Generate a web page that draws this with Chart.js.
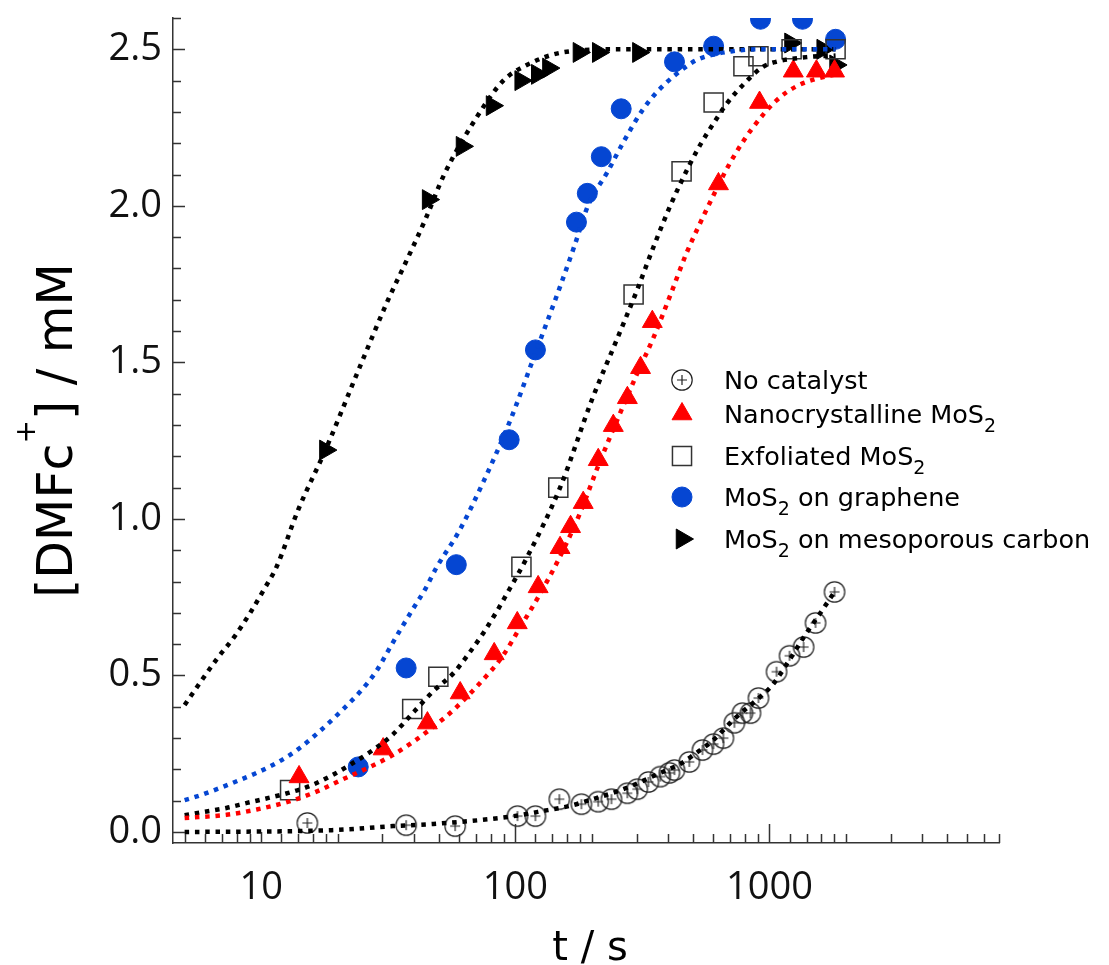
<!DOCTYPE html>
<html lang="en">
<head>
<meta charset="UTF-8">
<title>[DMFc+] vs t</title>
<script src="https://cdn.jsdelivr.net/npm/chart.js@4.4.1/dist/chart.umd.min.js"></script>
<style>
  html, body { margin: 0; padding: 0; background: #fff; }
  #chart { display: block; }
</style>
</head>
<body>
<canvas id="chart" width="1109" height="965"></canvas>
<script>
// measured points, [t (s), [DMFc+] (mM)]
var noCatalyst = [[15.2,0.029],[37.2,0.022],[58,0.019],[102,0.051],[120,0.051],[149,0.105],[182,0.089],[212,0.097],[239,0.105],[276,0.124],[302,0.137],[334,0.160],[372,0.177],[404,0.189],[423,0.198],[484,0.224],[545,0.262],[602,0.281],[659,0.300],[728,0.349],[783,0.380],[842,0.380],[905,0.428],[1066,0.512],[1199,0.563],[1362,0.591],[1518,0.668],[1803,0.767]];
var nanoMoS2 = [[14.1,0.176],[30.2,0.265],[45.1,0.348],[60.7,0.444],[82.6,0.569],[101.8,0.668],[123,0.783],[150,0.908],[165,0.975],[185,1.052],[212,1.189],[243,1.298],[276,1.387],[311,1.483],[346,1.63],[630,2.07],[914,2.33],[1241,2.43],[1530,2.43],[1803,2.43]];
var exfMoS2 = [[13.0,0.134],[39.3,0.393],[49.8,0.496],[105.7,0.847],[147.6,1.10],[292,1.717],[451,2.11],[603,2.33],[790,2.446],[905,2.478],[1222,2.50],[1820,2.50]];
var grapheneMoS2 = [[24.1,0.208],[37.2,0.524],[58.6,0.854],[94.6,1.253],[120,1.54],[174,1.948],[192,2.04],[218,2.157],[261,2.31],[423,2.46],[603,2.51],[922,2.596],[1349,2.596],[1820,2.532]];
var mesoMoS2 = [[17.9,1.22],[45.4,2.02],[61.7,2.19],[81,2.32],[105,2.40],[122,2.42],[135,2.44],[178,2.49],[212,2.49],[305,2.49],[1210,2.52],[1620,2.50],[1820,2.45]];

// fitted curves
var fitNoCatalyst = [[5,0.0],[19,0.006],[33,0.019],[47.6,0.026],[93,0.048],[134,0.07],[163,0.083],[196,0.102],[260,0.134],[311,0.16],[372,0.189],[452,0.22],[502,0.246],[602,0.294],[720,0.358],[938,0.438],[1028,0.47],[1177,0.54],[1410,0.64],[1596,0.703],[1803,0.767]];
var fitNano = [[5,0.045],[7.3,0.055],[9.6,0.072],[12.8,0.097],[16.6,0.13],[20.5,0.165],[26.8,0.208],[32.8,0.245],[39.6,0.288],[47.6,0.336],[58,0.395],[73.4,0.48],[88.8,0.56],[104.7,0.655],[123,0.75],[150,0.88],[180,1.02],[212,1.17],[250,1.31],[300,1.46],[350,1.58],[407,1.714],[471,1.848],[535,1.947],[586,2.014],[671,2.11],[748,2.177],[849,2.244],[1066,2.337],[1277,2.382],[1503,2.404],[1820,2.42]];
var fitExf = [[5,0.054],[6,0.065],[7.3,0.077],[8.8,0.093],[10.7,0.109],[12.8,0.125],[15.3,0.145],[18.5,0.176],[22.4,0.215],[27.1,0.258],[32.8,0.31],[40,0.385],[47.6,0.45],[57.5,0.51],[65.9,0.572],[74.9,0.636],[84.3,0.703],[94,0.770],[110,0.87],[150,1.10],[200,1.38],[250,1.57],[302,1.733],[349,1.867],[407,2.0],[484,2.13],[535,2.196],[602,2.263],[684,2.33],[790,2.388],[938,2.443],[1037,2.458],[1400,2.475],[1820,2.48]];
var fitGraphene = [[5,0.102],[5.5,0.112],[6.7,0.137],[8.05,0.163],[9.6,0.189],[11.7,0.224],[14,0.265],[16.9,0.32],[20.5,0.384],[24.5,0.448],[28.3,0.512],[31.6,0.579],[35.3,0.646],[39.6,0.713],[44.3,0.777],[48.9,0.844],[60,0.96],[75,1.12],[95,1.31],[120,1.53],[150,1.742],[171,1.873],[194,2.004],[230,2.107],[266,2.203],[316,2.305],[366,2.369],[484,2.452],[535,2.471],[715,2.494],[922,2.50],[1820,2.50]];
var fitMeso = [[5,0.406],[6.7,0.553],[7.9,0.627],[9.1,0.703],[10.3,0.777],[11.5,0.847],[14,1.03],[17.9,1.22],[24,1.47],[31.6,1.70],[36.6,1.81],[44.3,1.957],[52.5,2.10],[71.4,2.29],[89.7,2.40],[111,2.45],[153,2.49],[250,2.50],[1820,2.50]];

var seriesLabels = ['No catalyst', 'Nanocrystalline MoS_2', 'Exfoliated MoS_2', 'MoS_2 on graphene', 'MoS_2 on mesoporous carbon'];
var xTickValues = [5,6,7,8,9,10,12,14,16,18,20,30,40,50,60,70,80,90,100,120,140,160,180,200,300,400,500,600,700,800,900,1000,1200,1400,1600,1800,2000,3000,4000,5000,6000,7000,8000];
var xLabelValues = [10, 100, 1000];
var yLabelValues = [0, 0.5, 1.0, 1.5, 2.0, 2.5];

var RED = '#ff0000', BLUE = '#0546d2', BLACK = '#000000';

function pts(arr) {
    return arr.map(function (p) { return { x: p[0], y: p[1] }; });
}

// open circle with a plus inside
var circlePlus = (function () {
    var c = document.createElement('canvas');
    c.width = 26; c.height = 26;
    var g = c.getContext('2d');
    g.strokeStyle = '#222';
    g.lineWidth = 1.2;
    g.beginPath(); g.arc(13, 13, 10.2, 0, Math.PI * 2); g.stroke();
    g.beginPath(); g.moveTo(8, 13); g.lineTo(18, 13); g.moveTo(13, 8); g.lineTo(13, 18); g.stroke();
    return c;
})();

function markerSet(label, data, style) {
    return Object.assign({
        label: label,
        data: pts(data),
        showLine: false,
        order: 1,
        borderWidth: 1
    }, style);
}

function fitSet(data, color) {
    return {
        data: pts(data),
        showLine: true,
        pointRadius: 0,
        borderColor: color,
        borderWidth: 4.5,
        borderDash: [4.5, 5.8],
        cubicInterpolationMode: 'monotone',
        fill: false,
        order: 0
    };
}

var markerSets = [
    markerSet(seriesLabels[0], noCatalyst, { pointStyle: circlePlus, pointRadius: 10, backgroundColor: 'rgba(0,0,0,0)', borderColor: '#222' }),
    markerSet(seriesLabels[1], nanoMoS2, { pointStyle: 'triangle', pointRadius: 11.5, backgroundColor: RED, borderColor: RED }),
    markerSet(seriesLabels[2], exfMoS2, { pointStyle: 'rect', pointRadius: 13.5, backgroundColor: 'rgba(0,0,0,0)', borderColor: '#333', borderWidth: 1.5 }),
    markerSet(seriesLabels[3], grapheneMoS2, { pointStyle: 'circle', pointRadius: 10, backgroundColor: BLUE, borderColor: BLUE }),
    markerSet(seriesLabels[4], mesoMoS2, { pointStyle: 'triangle', pointRotation: 90, pointRadius: 11.5, backgroundColor: BLACK, borderColor: BLACK })
];

// tick marks inside the frame, axis titles and the legend
var decorPlugin = {
    id: 'decor',
    afterDraw: function (chart) {
        var ctx = chart.ctx, xs = chart.scales.x, ys = chart.scales.y, a = chart.chartArea;
        ctx.save();
        ctx.strokeStyle = '#333';
        ctx.lineWidth = 1.5;
        ctx.beginPath();
        xTickValues.forEach(function (v) {
            var px = Math.round(xs.getPixelForValue(v)) + 0.5;
            var len = v === 10 ? 11 : (xLabelValues.indexOf(v) >= 0 ? 19 : 9);
            ctx.moveTo(px, a.bottom);
            ctx.lineTo(px, a.bottom - len);
        });
        for (var i = 0; i <= 26; i++) {
            var py = Math.round(ys.getPixelForValue(i / 10)) + 0.5;
            ctx.moveTo(a.left, py);
            ctx.lineTo(a.left + (i % 5 === 0 ? 12 : 8), py);
        }
        ctx.stroke();

        // x title
        ctx.fillStyle = '#000';
        ctx.font = '40px "DejaVu Sans"';
        ctx.textAlign = 'center';
        ctx.textBaseline = 'alphabetic';
        ctx.fillText('t / s', (a.left + a.right) / 2 + 4, 960);

        // y title, rotated, with superscript
        ctx.save();
        ctx.translate(72, (a.top + a.bottom) / 2);
        ctx.rotate(-Math.PI / 2);
        var big = '49px "DejaVu Sans"', small = '28px "DejaVu Sans"';
        var parts = [['[DMFc', big, 0], ['+', small, -37], ['] / mM', big, 0]];
        var total = 0;
        parts.forEach(function (p) { ctx.font = p[1]; total += ctx.measureText(p[0]).width; });
        var x = -total / 2;
        ctx.textAlign = 'left';
        parts.forEach(function (p) {
            ctx.font = p[1];
            ctx.fillText(p[0], x, p[2]);
            x += ctx.measureText(p[0]).width;
        });
        ctx.restore();

        // legend
        var rowY = [380, 414, 456, 497, 539];
        markerSets.forEach(function (ds, k) {
            var y = rowY[k];
            ctx.save();
            ctx.fillStyle = ds.backgroundColor;
            ctx.strokeStyle = ds.borderColor;
            ctx.lineWidth = ds.borderWidth;
            Chart.helpers.drawPoint(ctx, {
                pointStyle: ds.pointStyle,
                radius: ds.pointRadius,
                rotation: ds.pointRotation || 0,
                borderWidth: ds.borderWidth
            }, 682, y);
            ctx.restore();

            ctx.fillStyle = '#000';
            ctx.textAlign = 'left';
            var tx = 724, base = y + 9;
            ds.label.split('_').forEach(function (seg, j) {
                if (j > 0) {
                    ctx.font = '19px "DejaVu Sans"';
                    ctx.fillText(seg[0], tx, base + 9);
                    tx += ctx.measureText(seg[0]).width;
                    seg = seg.slice(1);
                }
                ctx.font = '25.5px "DejaVu Sans"';
                ctx.fillText(seg, tx, base);
                tx += ctx.measureText(seg).width;
            });
        });
        ctx.restore();
    }
};

var ctx = document.getElementById('chart').getContext('2d');

var chart = new Chart(ctx, {
    type: 'scatter',
    data: {
        datasets: [
            fitSet(fitNoCatalyst, BLACK),
            fitSet(fitNano, RED),
            fitSet(fitExf, BLACK),
            fitSet(fitGraphene, BLUE),
            fitSet(fitMeso, BLACK)
        ].concat(markerSets)
    },
    options: {
        responsive: false,
        animation: false,
        layout: { padding: { left: 0, right: 110, top: 18, bottom: 0 } },
        plugins: {
            legend: { display: false },
            tooltip: { enabled: false }
        },
        scales: {
            x: {
                type: 'logarithmic',
                min: 4.5,
                max: 8000,
                grid: { display: false, drawTicks: false },
                border: { display: true, color: '#333', width: 1.5 },
                ticks: {
                    autoSkip: false,
                    maxRotation: 0,
                    padding: 22,
                    color: '#111',
                    font: { family: 'Open Sans', size: 38 },
                    callback: function (v) { return String(v); }
                },
                afterBuildTicks: function (s) {
                    s.ticks = xLabelValues.map(function (v) { return { value: v }; });
                },
                afterFit: function (s) {
                    s.height = 122;
                    s.paddingLeft = 0;
                    s.paddingRight = 0;
                }
            },
            y: {
                min: -0.035,
                max: 2.6,
                grid: { display: false, drawTicks: false },
                border: { display: true, color: '#333', width: 1.5 },
                ticks: {
                    autoSkip: false,
                    padding: 11,
                    color: '#111',
                    font: { family: 'Open Sans', size: 38 },
                    callback: function (v) { return v.toFixed(1); }
                },
                afterBuildTicks: function (s) {
                    s.ticks = yLabelValues.map(function (v) { return { value: v }; });
                },
                afterFit: function (s) {
                    s.width = 173;
                    s.paddingTop = 0;
                    s.paddingBottom = 0;
                }
            }
        }
    },
    plugins: [decorPlugin]
});
</script>
</body>
</html>
